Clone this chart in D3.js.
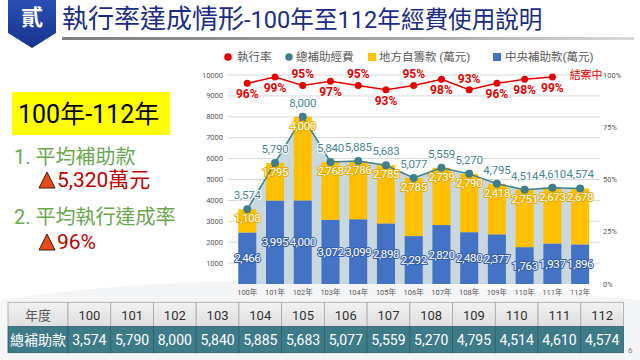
<!DOCTYPE html>
<html><head><meta charset="utf-8">
<script src="https://cdn.jsdelivr.net/npm/d3@7"></script>
<style>
html,body{margin:0;padding:0;background:#fff;}
svg{display:block;font-family:Roboto,"Noto Sans CJK TC",sans-serif;}
.halo{paint-order:stroke;stroke-linejoin:round;}
</style></head>
<body>
<svg id="c" width="640" height="360"></svg>
<script>
const categories = ["100","101","102","103","104","105","106","107","108","109","110","111","112"];
const central = [2466,3995,4000,3072,3099,2898,2292,2820,2480,2377,1763,1937,1896];
const local   = [1108,1795,4000,2768,2786,2785,2785,2739,2790,2418,2751,2673,2678];
const total   = [3574,5790,8000,5840,5885,5683,5077,5559,5270,4795,4514,4610,4574];
const rateYears = ["100","101","102","103","104","105","106","107","108","109","110","111"];
const rates = [96,99,95,97,95,93,95,98,93,96,98,99];
const rateAbove = [false,false,true,false,true,false,true,false,true,false,false,false];
const leftTicks = [1000,2000,3000,4000,5000,6000,7000,8000,9000,10000];
const rightTicks = [0,25,50,75,100];
const legendItems = ["執行率","總補助經費","地方自籌款 (萬元)","中央補助款(萬元)"];
const tableHeader = ["年度", ...categories];
const tableRow = ["總補助款", ...total.map(d => d3.format(",")(d))];

const svg = d3.select("#c");
const defs = svg.append("defs");
const C = {blue:"#4472c4", yellow:"#ffc000", teal:"#3f7f8c", tealText:"#4a8695", red:"#e60000", area:"#c9d7de", grid:"#d9d9d9", axis:"#595959"};

// faint background swoosh
svg.append("path").attr("d","M0,300 C120,282 260,276 420,284 C520,289 600,296 640,300 L640,360 L0,360 Z").attr("fill","#f4f5f6");

// header badge
const hg = svg.append("g");
const bgGrad = defs.append("linearGradient").attr("id","bg").attr("x1",0).attr("y1",0).attr("x2",0).attr("y2",1);
bgGrad.append("stop").attr("offset","0").attr("stop-color","#2a4fb4");
bgGrad.append("stop").attr("offset","1").attr("stop-color","#16348f");
hg.append("path").attr("d","M8,0 L56,0 L56,33 L32,48 L8,33 Z").attr("fill","url(#bg)");
hg.append("text").attr("x",32).attr("y",19).attr("text-anchor","middle").attr("dominant-baseline","middle")
  .attr("fill","#fff").attr("font-size",22).attr("font-weight","bold").text("貳");
const lg = defs.append("linearGradient").attr("id","lg");
lg.append("stop").attr("offset","0").attr("stop-color","#7f7f7f");
lg.append("stop").attr("offset","0.6").attr("stop-color","#a6a6a6");
lg.append("stop").attr("offset","1").attr("stop-color","#d9d9d9");
hg.append("rect").attr("x",62).attr("y",37).attr("width",572).attr("height",3).attr("fill","url(#lg)");
const title = hg.append("text").attr("x",62).attr("y",28).attr("fill","#1b2c85");
title.append("tspan").attr("font-size",26).text("執行率達成情形");
title.append("tspan").attr("font-size",23.6).text("-100年至112年經費使用說明");

// left panel
svg.append("rect").attr("x",12).attr("y",92).attr("width",158).attr("height",43).attr("fill","#ffff00");
svg.append("text").attr("x",18).attr("y",114).attr("dominant-baseline","central").attr("font-size",25).attr("fill","#000").text("100年-112年");
const green = "#6aa84f";
svg.append("text").attr("x",14).attr("y",157).attr("dominant-baseline","central").attr("font-size",20).attr("fill",green).text("1. 平均補助款");
svg.append("text").attr("x",14).attr("y",217).attr("dominant-baseline","central").attr("font-size",20).attr("fill",green).text("2. 平均執行達成率");
[[180,"5,320萬元"],[242,"96%"]].forEach(([cy,t])=>{
  svg.append("path").attr("d",`M39,${cy+8} L47,${cy-8} L55,${cy+8} Z`).attr("fill","#e84a1c").attr("stroke","#3a1a10").attr("stroke-width",1);
  svg.append("text").attr("x",57).attr("y",cy).attr("dominant-baseline","central").attr("font-size",21).attr("fill","#c00000").text(t);
});

// scales
const x = d3.scaleBand().domain(categories).range([233.4,594]).paddingInner(0.35).paddingOuter(0.175);
const y = d3.scaleLinear().domain([0,10000]).range([284,75]);
const yR = d3.scaleLinear().domain([0,100]).range([284,75]);
const cx = d => x(d) + x.bandwidth()/2;

// gridlines
svg.append("g").selectAll("line").data(leftTicks).join("line")
  .attr("x1",228).attr("x2",600).attr("y1",d=>y(d)).attr("y2",d=>y(d)).attr("stroke",C.grid).attr("stroke-width",1);

// left axis labels
svg.append("g").selectAll("text").data(leftTicks).join("text")
  .attr("x",223).attr("y",d=>y(d)).attr("text-anchor","end").attr("dominant-baseline","central")
  .attr("font-size",7.5).attr("fill",C.axis).text(d=>d);
// right axis labels
svg.append("g").selectAll("text").data(rightTicks).join("text")
  .attr("x",603).attr("y",d=>yR(d)).attr("dominant-baseline","central")
  .attr("font-size",7.5).attr("fill",C.axis).text(d=>d+"%");
// x labels
svg.append("g").selectAll("text").data(categories).join("text")
  .attr("x",d=>cx(d)).attr("y",292).attr("text-anchor","middle").attr("dominant-baseline","central")
  .attr("font-size",7.5).attr("fill",C.axis).text(d=>d+"年");

// area under total
const area = d3.area().x((d,i)=>cx(categories[i])).y0(y(0)).y1(d=>y(d));
svg.append("path").datum(total).attr("d",area).attr("fill",C.area);

// bars
svg.append("g").selectAll("rect").data(central).join("rect")
  .attr("x",(d,i)=>x(categories[i])).attr("width",x.bandwidth())
  .attr("y",d=>y(d)).attr("height",d=>y(0)-y(d)).attr("fill",C.blue);
svg.append("g").selectAll("rect").data(local).join("rect")
  .attr("x",(d,i)=>x(categories[i])).attr("width",x.bandwidth())
  .attr("y",(d,i)=>y(central[i]+d)).attr("height",(d,i)=>y(central[i])-y(central[i]+d)).attr("fill",C.yellow);

// total line
const line = d3.line().x((d,i)=>cx(categories[i])).y(d=>y(d));
svg.append("path").datum(total).attr("d",line).attr("fill","none").attr("stroke",C.teal).attr("stroke-width",1.5);
svg.append("g").selectAll("circle").data(total).join("circle")
  .attr("cx",(d,i)=>cx(categories[i])).attr("cy",d=>y(d)).attr("r",4).attr("fill",C.teal);

const fmt = d3.format(",");
// bar labels
svg.append("g").selectAll("text").data(central).join("text").attr("class","halo")
  .attr("x",(d,i)=>cx(categories[i])).attr("y",d=>(y(0)+y(d))/2).attr("text-anchor","middle").attr("dominant-baseline","central")
  .attr("font-size",11.5).attr("letter-spacing",-0.4).attr("fill","#fff").attr("stroke","#3560b0").attr("stroke-width",2).text(d=>fmt(d));
svg.append("g").selectAll("text").data(local).join("text").attr("class","halo")
  .attr("x",(d,i)=>cx(categories[i])).attr("y",(d,i)=>y(total[i])+9).attr("text-anchor","middle").attr("dominant-baseline","central")
  .attr("font-size",11.5).attr("letter-spacing",-0.4).attr("fill","#fff").attr("stroke","#e8ac00").attr("stroke-width",2).text(d=>fmt(d));
// total labels
svg.append("g").selectAll("text").data(total).join("text").attr("class","halo")
  .attr("x",(d,i)=>cx(categories[i])).attr("y",d=>y(d)-14).attr("text-anchor","middle").attr("dominant-baseline","central")
  .attr("font-size",11.5).attr("letter-spacing",-0.2).attr("fill",C.tealText).attr("stroke","#fff").attr("stroke-width",2).text(d=>fmt(d));

// rate line
const rline = d3.line().x((d,i)=>cx(rateYears[i])).y(d=>yR(d));
svg.append("path").datum(rates).attr("d",rline).attr("fill","none").attr("stroke",C.red).attr("stroke-width",1.5);
svg.append("g").selectAll("circle").data(rates).join("circle")
  .attr("cx",(d,i)=>cx(rateYears[i])).attr("cy",d=>yR(d)).attr("r",3.5).attr("fill",C.red);
svg.append("g").selectAll("text").data(rates).join("text").attr("class","halo")
  .attr("x",(d,i)=>cx(rateYears[i])).attr("y",(d,i)=>yR(d)+(rateAbove[i]?-11:11)).attr("text-anchor","middle").attr("dominant-baseline","central")
  .attr("font-size",12).attr("font-weight","bold").attr("fill",C.red).attr("stroke","#fff").attr("stroke-width",2).text(d=>d+"%");
svg.append("text").attr("x",cx("112")+6).attr("y",75).attr("text-anchor","middle").attr("dominant-baseline","central")
  .attr("font-size",11).attr("fill",C.red).text("結案中");

// legend
const lgx = [[228,237],[289,296],[372,379],[497,505]];
const lcol = [C.red,C.teal,C.yellow,C.blue];
legendItems.forEach((t,i)=>{
  if(i<2) svg.append("circle").attr("cx",lgx[i][0]).attr("cy",57).attr("r",3.8).attr("fill",lcol[i]);
  else svg.append("rect").attr("x",lgx[i][0]-4).attr("y",53).attr("width",8).attr("height",8).attr("fill",lcol[i]);
  svg.append("text").attr("x",lgx[i][1]).attr("y",57).attr("dominant-baseline","central").attr("font-size",11.5).attr("fill",C.axis).text(t);
});

// table
const tx0 = 8, col0 = 60, colW = (623.5-68)/13, r0 = 302.3, r1 = 326.7, r2 = 352.7;
const hgd = defs.append("linearGradient").attr("id","hd").attr("x1",0).attr("y1",0).attr("x2",0).attr("y2",1);
hgd.append("stop").attr("offset","0").attr("stop-color","#f2f2f2");
hgd.append("stop").attr("offset","1").attr("stop-color","#dedede");
const colX = i => i===0 ? tx0 : tx0+col0+(i-1)*colW;
const colWd = i => i===0 ? col0 : colW;
const tg = svg.append("g");
tableHeader.forEach((t,i)=>{
  tg.append("rect").attr("x",colX(i)).attr("y",r0).attr("width",colWd(i)).attr("height",r1-r0).attr("fill","url(#hd)").attr("stroke","#a6a6a6").attr("stroke-width",0.8);
  tg.append("text").attr("x",colX(i)+colWd(i)/2).attr("y",(r0+r1)/2+0.5).attr("text-anchor","middle").attr("dominant-baseline","central")
    .attr("font-size",13).attr("fill",i===0?"#595959":"#333").text(t);
});
tableRow.forEach((t,i)=>{
  tg.append("rect").attr("x",colX(i)).attr("y",r1).attr("width",colWd(i)).attr("height",r2-r1).attr("fill","#3e7b89").attr("stroke","#2e5f6b").attr("stroke-width",0.8);
  tg.append("text").attr("x",colX(i)+colWd(i)/2).attr("y",(r1+r2)/2+0.5).attr("text-anchor","middle").attr("dominant-baseline","central")
    .attr("font-size",14).attr("fill","#fff").text(t);
});
svg.append("text").attr("x",628).attr("y",350).attr("font-size",8).attr("fill","#7f7f7f").attr("dominant-baseline","central").text("6");
</script>
</body></html>
